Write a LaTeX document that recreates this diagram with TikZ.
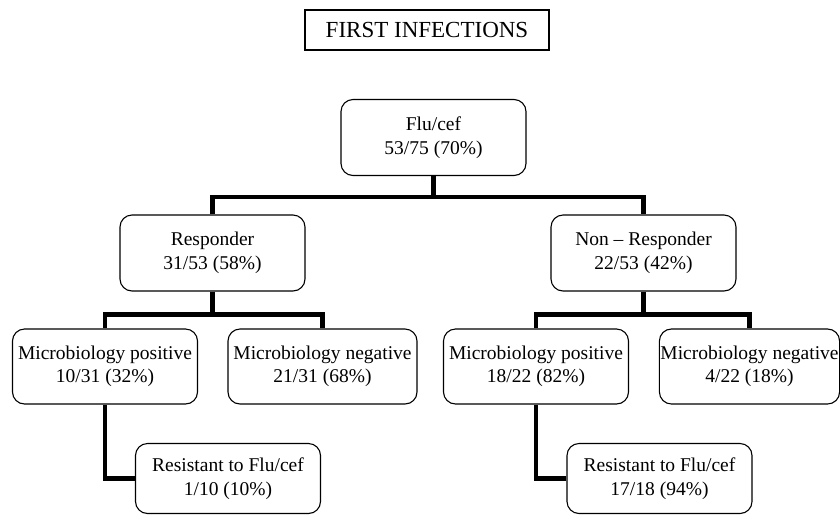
\documentclass[tikz,border=0pt]{standalone}
\usepackage{fontspec}
\setmainfont{Liberation Serif}
\begin{document}
\begin{tikzpicture}
    [x=1pt,y=1pt,
     box/.style={draw,line width=1.1pt,rounded corners=12pt,align=center,
       inner sep=1pt,minimum width=185pt,minimum height=76pt,
       font=\fontsize{19.5}{23.5}\selectfont},
     link/.style={line width=4.2pt}]
    \useasboundingbox (0,0) rectangle (840,-515);
    \node (title) at (427, -30) [draw,line width=1.1pt,minimum width=244pt,minimum height=40pt,
      font=\fontsize{23}{27}\selectfont] {FIRST INFECTIONS};
    \node (flucef) at (433.5, -137.5) [box] {Flu/cef\\53/75 (70\%)};
    \node (resp) at (212.5, -253) [box] {Responder\\31/53 (58\%)};
    \node (nonresp) at (643.5, -253) [box] {Non -- Responder\\22/53 (42\%)};
    \node (posl) at (105, -366.5) [box,minimum height=75pt] {Microbiology positive\\10/31 (32\%)};
    \node (negl) at (322.5, -366.5) [box,minimum height=75pt,minimum width=189pt] {Microbiology negative\\21/31 (68\%)};
    \node (posr) at (536, -366.5) [box,minimum height=75pt] {Microbiology positive\\18/22 (82\%)};
    \node (negr) at (749.5, -366.5) [box,minimum height=75pt,minimum width=180pt] {Microbiology negative\\4/22 (18\%)};
    \node (resl) at (228, -478.5) [box,minimum height=70pt] {Resistant to Flu/cef\\1/10 (10\%)};
    \node (resr) at (659.5, -478.5) [box,minimum height=70pt] {Resistant to Flu/cef\\17/18 (94\%)};
    \draw [link] (flucef.south) -- ++(0,-21) coordinate (j0);
    \draw [link] (resp.north) |- (j0) -| (nonresp.north);
    \draw [link] (resp.south) -- ++(0,-23) coordinate (j1);
    \draw [link] (posl.north) |- (j1) -| (negl.north);
    \draw [link] (nonresp.south) -- ++(0,-23) coordinate (j2);
    \draw [link] (posr.north) |- (j2) -| (negr.north);
    \draw [link] (posl.south) |- (resl.west);
    \draw [link] (posr.south) |- (resr.west);
  \end{tikzpicture}
\end{document}
